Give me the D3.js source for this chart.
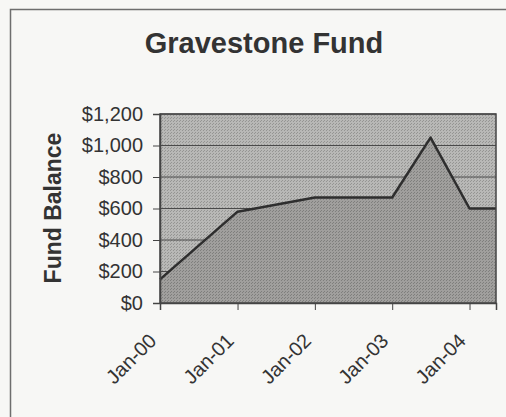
<!DOCTYPE html>
<html>
<head>
<meta charset="utf-8">
<script src="https://cdn.jsdelivr.net/npm/d3@7"></script>
<style>
  body { margin: 0; background: #f7f7f5; }
  svg { display: block; font-family: "Liberation Sans", Arial, sans-serif; }
</style>
</head>
<body>
<div class="chart"></div>
<script>
"use strict";

// values
const dates = ["2000-01-01", "2001-01-01", "2002-01-01", "2003-01-01", "2003-07-01", "2004-01-01", "2004-05-05"];
const balances = [150, 580, 670, 670, 1050, 600, 600];
const yTicks = [0, 200, 400, 600, 800, 1000, 1200];
const xTicks = ["2000-01-01", "2001-01-01", "2002-01-01", "2003-01-01", "2004-01-01"];

const parse = d3.timeParse("%Y-%m-%d");
const data = dates.map((d, i) => ({ date: parse(d), value: balances[i] }));

const width = 506;
const height = 417;
const plot = { left: 160, right: 496, top: 114, bottom: 303 };

const svg = d3
  .select(".chart")
  .append("svg")
  .attr("width", width)
  .attr("height", height);

// halftone-ish dot pattern
const defs = svg.append("defs");
const makePattern = (id, base, dot) => {
  const p = defs
    .append("pattern")
    .attr("id", id)
    .attr("width", 3)
    .attr("height", 3)
    .attr("patternUnits", "userSpaceOnUse");
  p.append("rect").attr("width", 3).attr("height", 3).style("fill", base);
  p.append("rect").attr("width", 1).attr("height", 1).style("fill", dot);
  p.append("rect").attr("x", 2).attr("y", 1).attr("width", 1).attr("height", 1).style("fill", dot);
};
makePattern("upper", "#b8b8b6", "#959593");
makePattern("lower", "#a09f9d", "#7f7f7d");

// outer frame (only left and top edges are visible)
svg
  .append("path")
  .attr("d", `M10.5,${height}V9.5H${width}`)
  .style("fill", "none")
  .style("stroke", "#6e6e6e")
  .style("stroke-width", 1.5);

const x = d3
  .scaleTime()
  .domain(d3.extent(data, (d) => d.date))
  .range([plot.left, plot.right]);

const y = d3.scaleLinear().domain([0, 1200]).range([plot.bottom, plot.top]);

// plot background
svg
  .append("rect")
  .attr("x", plot.left)
  .attr("y", plot.top)
  .attr("width", plot.right - plot.left)
  .attr("height", plot.bottom - plot.top)
  .style("fill", "url(#upper)");

// gridlines
svg
  .selectAll(".grid")
  .data(yTicks)
  .enter()
  .append("line")
  .attr("x1", plot.left)
  .attr("x2", plot.right)
  .attr("y1", (d) => y(d))
  .attr("y2", (d) => y(d))
  .style("stroke", "#4a4a4a")
  .style("stroke-width", 1);

// area under the line
const area = d3
  .area()
  .x((d) => x(d.date))
  .y0(y(0))
  .y1((d) => y(d.value));

svg.append("path").datum(data).attr("d", area).style("fill", "url(#lower)");

const line = d3
  .line()
  .x((d) => x(d.date))
  .y((d) => y(d.value));

svg
  .append("path")
  .datum(data)
  .attr("d", line)
  .style("fill", "none")
  .style("stroke", "#2e2e2e")
  .style("stroke-width", 2.5)
  .style("stroke-linejoin", "round");

// plot border
svg
  .append("rect")
  .attr("x", plot.left)
  .attr("y", plot.top)
  .attr("width", plot.right - plot.left)
  .attr("height", plot.bottom - plot.top)
  .style("fill", "none")
  .style("stroke", "#444")
  .style("stroke-width", 1.5);

// y axis
const yAxis = svg
  .append("g")
  .attr("transform", `translate(${plot.left},0)`)
  .call(
    d3
      .axisLeft(y)
      .tickValues(yTicks)
      .tickSize(7)
      .tickPadding(10)
      .tickFormat((d) => "$" + d3.format(",")(d))
  );
yAxis.select(".domain").style("stroke", "#444").style("stroke-width", 1.5);
yAxis.selectAll(".tick line").style("stroke", "#444");
yAxis
  .selectAll(".tick text")
  .style("font-size", "20px")
  .style("fill", "#333")
  .style("font-family", "Liberation Sans, Arial, sans-serif");

// x axis
const xAxis = svg
  .append("g")
  .attr("transform", `translate(0,${plot.bottom})`)
  .call(
    d3
      .axisBottom(x)
      .tickValues(xTicks.map(parse))
      .tickSize(7)
      .tickFormat(d3.timeFormat("%b-%y"))
  );
xAxis.select(".domain").style("stroke", "#444").style("stroke-width", 1.5);
xAxis.selectAll(".tick line").style("stroke", "#444");
xAxis
  .selectAll(".tick text")
  .style("font-size", "20px")
  .style("fill", "#333")
  .style("font-family", "Liberation Sans, Arial, sans-serif")
  .attr("text-anchor", "end")
  .attr("dy", "0.35em")
  .attr("transform", "translate(-15,27) rotate(-45)");

// titles
svg
  .append("text")
  .attr("x", 264)
  .attr("y", 53)
  .attr("text-anchor", "middle")
  .style("font-size", "29px")
  .style("font-weight", "bold")
  .style("fill", "#333")
  .text("Gravestone Fund");

svg
  .append("text")
  .attr("transform", "translate(61,208) rotate(-90)")
  .attr("text-anchor", "middle")
  .style("font-size", "23px")
  .style("font-weight", "bold")
  .style("fill", "#333")
  .text("Fund Balance");
</script>
</body>
</html>
